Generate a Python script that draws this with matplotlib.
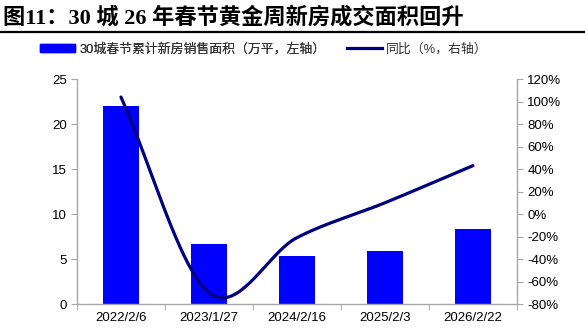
import numpy as np
import matplotlib.pyplot as plt
from matplotlib.patches import Patch
from matplotlib.lines import Line2D
from matplotlib.ticker import FuncFormatter

plt.rcParams['font.family'] = ['Liberation Sans', 'Noto Sans CJK SC']

### Data ###
dates = ['2022/2/6', '2023/1/27', '2024/2/16', '2025/2/3', '2026/2/22']
area = [22.0, 6.7, 5.35, 5.9, 8.3]          # 万平
yoy = [104, -70, -21, 10, 43]              # %

bar_label = '30城春节累计新房销售面积（万平，左轴）'
line_label = '同比（%，右轴）'
title = '图11：30 城 26 年春节黄金周新房成交面积回升'

bar_color = '#0000FF'
line_color = '#000080'
axis_grey = '#A6A6A6'


def smooth(x, y, n=40):
    # Catmull-Rom style smoothing, like a spreadsheet "smoothed line"
    x = np.asarray(x, float)
    y = np.asarray(y, float)
    px = np.concatenate([[2 * x[0] - x[1]], x, [2 * x[-1] - x[-2]]])
    py = np.concatenate([[2 * y[0] - y[1]], y, [2 * y[-1] - y[-2]]])
    xs, ys = [], []
    t = np.linspace(0, 1, n)
    for i in range(1, len(px) - 2):
        p0, p1, p2, p3 = [np.array([px[j], py[j]]) for j in range(i - 1, i + 3)]
        c1 = p1 + (p2 - p0) / 6
        c2 = p2 - (p3 - p1) / 6
        pts = (np.outer((1 - t) ** 3, p1) + np.outer(3 * (1 - t) ** 2 * t, c1)
               + np.outer(3 * (1 - t) * t ** 2, c2) + np.outer(t ** 3, p2))
        xs.append(pts[:, 0])
        ys.append(pts[:, 1])
    return np.concatenate(xs), np.concatenate(ys)


fig = plt.figure(figsize=(5.85, 3.35), dpi=100)
ax = fig.add_axes([0.1316, 0.0925, 0.752, 0.6715])
x = np.arange(len(dates))
ax.bar(x, area, width=0.4, color=bar_color, zorder=2)
ax.set_xlim(-0.5, len(dates) - 0.5)
ax.set_ylim(0, 25)
ax.set_yticks(range(0, 26, 5))
ax.set_xticks(x)
ax.set_xticklabels(dates)
ax.set_xticks(np.arange(-0.5, len(dates), 1), minor=True)
ax.tick_params(axis='x', which='major', length=0, labelsize=9.5, pad=6)
ax.tick_params(axis='x', which='minor', length=4, color=axis_grey)
ax.tick_params(axis='y', length=4, color=axis_grey, labelsize=9.5)

ax2 = ax.twinx()
sx, sy = smooth(x, yoy)
ax2.plot(sx, sy, color=line_color, lw=2.3, solid_capstyle='round', zorder=3)
ax2.set_ylim(-80, 120)
ax2.set_yticks(range(-80, 121, 20))
ax2.yaxis.set_major_formatter(FuncFormatter(lambda v, p: f'{int(v)}%'))
ax2.tick_params(axis='y', length=4, color=axis_grey, labelsize=9.5)

for a in (ax, ax2):
    for s in a.spines.values():
        s.set_visible(False)
ax.spines['left'].set_visible(True)
ax.spines['bottom'].set_visible(True)
ax2.spines['right'].set_visible(True)
for s in (ax.spines['left'], ax.spines['bottom'], ax2.spines['right']):
    s.set_color(axis_grey)
    s.set_linewidth(1.0)

# title and rule
fig.text(0.005, 0.93, title, fontsize=16, fontweight='bold',
         family=['Liberation Serif', 'Noto Sans CJK SC'], va='baseline')
fig.add_artist(Line2D([0, 1], [0.904, 0.904], color='black', lw=1.6,
                      transform=fig.transFigure))

# legend, two entries placed separately
leg_kw = dict(loc='center left', frameon=False, fontsize=9.3,
              handlelength=2.7, handleheight=0.55, handletextpad=0.35,
              borderpad=0, borderaxespad=0, labelcolor='#333333')
leg1 = fig.legend([Patch(color=bar_color)], [bar_label],
                  bbox_to_anchor=(0.068, 0.853), **leg_kw)
fig.legend([Line2D([], [], color=line_color, lw=2.3)], [line_label],
           bbox_to_anchor=(0.593, 0.853), **leg_kw)
fig.add_artist(leg1)

fig.savefig('out.png', dpi=100)
